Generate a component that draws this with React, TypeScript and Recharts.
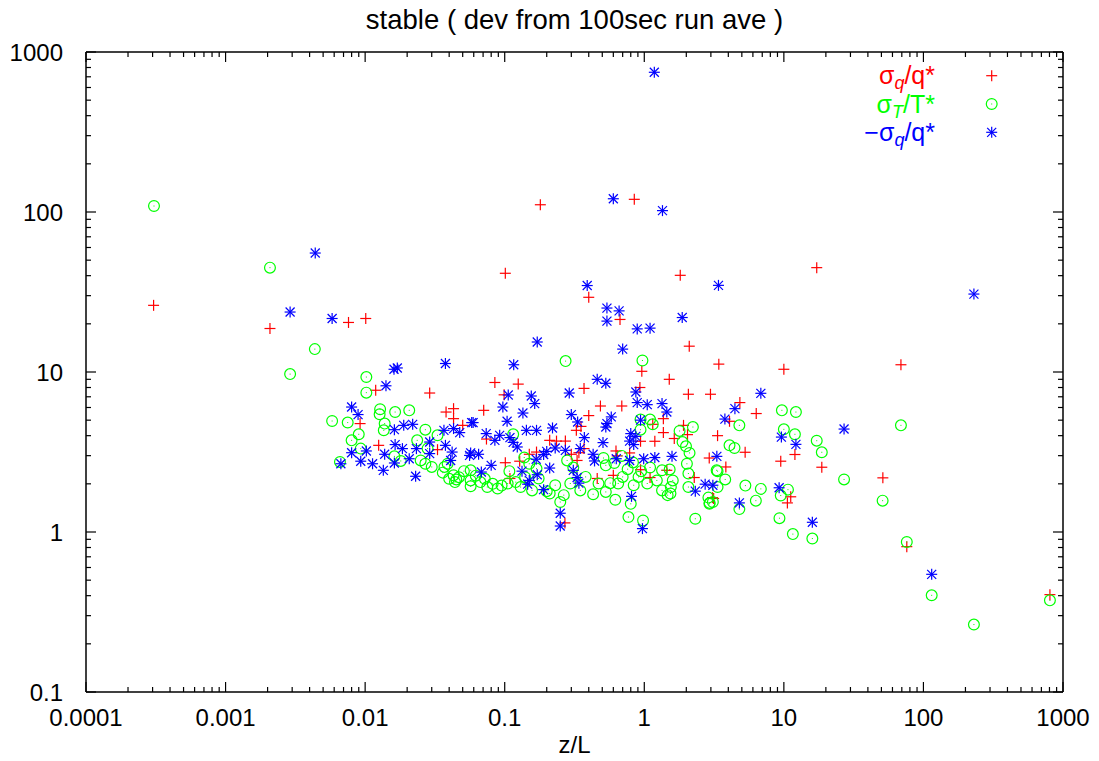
import React from "react";
import { ScatterChart, Scatter, XAxis, YAxis } from "recharts";

// sigma_q / q*  (red plus)
const sqX = [
  3.05e-4, 0.00208, 0.0076, 0.0101, 0.101, 0.18, 0.848, 1.81, 17.2, 0.4,
  0.67, 0.96, 2.1, 3.42, 10.0, 1.51, 0.37, 69, 51.2, 76,
  806, 2.98, 4.84, 6.34, 4.08, 3.35, 5.28, 2.92, 3.84, 9.5,
  12.0, 18.7, 11.2, 10.6, 3.08, 0.085, 0.125, 0.099, 0.0707, 0.4,
  0.485, 0.69, 0.93, 1.37, 2.07, 0.074, 0.21, 0.235, 0.272, 0.37,
  0.34, 0.326, 0.352, 0.627, 0.64, 0.785, 1.15, 0.94, 1.19, 1.37,
  1.64, 1.91, 2.04, 0.101, 0.128, 0.15, 0.169, 0.3, 0.33, 0.46,
  0.6, 0.94, 1.1, 1.45, 0.109, 2.28, 3.14, 0.27, 0.0119, 0.029,
  0.038, 0.043, 0.043, 0.05, 0.0092, 0.0125, 0.033,
];
const sqY = [
  26.1, 18.7, 20.4, 21.6, 41.4, 111, 120, 40.2, 44.9, 29.3,
  21.3, 10.1, 14.5, 11.2, 10.4, 9.0, 7.9, 11.1, 2.18, 0.81,
  0.406, 7.26, 6.44, 5.5, 4.92, 4.0, 3.15, 2.9, 2.55, 2.77,
  3.05, 2.54, 1.66, 1.52, 1.64, 8.6, 8.4, 7.2, 5.76, 5.34,
  6.13, 6.13, 8.0, 5.11, 7.26, 3.81, 3.74, 3.7, 3.7, 3.32,
  3.13, 4.32, 4.57, 3.21, 2.99, 3.12, 4.71, 3.69, 3.69, 4.18,
  3.84, 4.64, 4.06, 2.71, 2.77, 3.06, 3.16, 3.06, 2.8, 2.16,
  2.26, 2.45, 2.19, 2.43, 2.16, 2.19, 1.62, 1.14, 7.69, 7.39,
  5.62, 5.9, 5.11, 4.64, 4.76, 3.48, 3.27,
];

// sigma_T / T*  (green circle)
const stX = [
  3.07e-4, 0.00208, 0.00436, 0.0029, 0.0102, 0.0102, 0.0058, 0.0075, 0.0128, 0.0127,
  0.0164, 0.0207, 0.0138, 0.0136, 0.027, 0.009, 0.008, 0.0093, 0.0236, 0.028,
  0.039, 0.043, 0.051, 0.057, 0.057, 0.0066, 0.0162, 0.018, 0.027, 0.033,
  0.037, 0.045, 0.115, 0.94, 0.94, 1.1, 1.15, 1.79, 2.23, 1.88,
  1.99, 2.11, 3.3, 0.51, 0.53, 0.61, 0.69, 0.76, 0.83, 0.95,
  1.1, 1.34, 1.52, 1.6, 1.55, 1.54, 1.47, 2.07, 2.07, 2.88,
  2.93, 2.32, 0.98, 0.77, 0.62, 0.8, 0.25, 0.21, 0.057, 0.067,
  0.075, 0.089, 0.105, 0.108, 0.13, 0.157, 0.175, 0.2, 0.23, 0.265,
  0.28, 0.295, 0.348, 0.38, 0.43, 0.47, 0.53, 0.57, 0.65, 0.7,
  0.84, 0.91, 1.05, 1.23, 1.34, 2.02, 0.31, 0.15, 0.138, 0.169,
  0.273, 0.97, 4.8, 9.68, 12.2, 10.0, 12.0, 4.08, 4.43, 3.35,
  17.2, 18.7, 27, 69, 51, 3.8, 5.3, 6.84, 10.7, 9.5,
  3.35, 2.94, 3.1, 4.8, 6.3, 9.3, 11.6, 16, 76, 114.6,
  230, 806, 0.04, 0.044, 0.047, 0.036, 0.03, 0.025, 0.062, 0.072,
  0.082, 0.095, 0.12, 0.14,
];
const stY = [
  109, 44.9, 13.9, 9.7, 9.3, 7.43, 4.94, 4.83, 5.85, 5.44,
  5.62, 5.76, 4.76, 4.32, 4.36, 4.08, 3.74, 3.32, 3.74, 3.32,
  2.67, 2.26, 2.4, 2.1, 1.93, 2.74, 2.97, 2.78, 2.67, 4.02,
  2.55, 2.13, 4.08, 4.36, 5.04, 5.04, 4.71, 4.28, 4.53, 3.65,
  3.43, 3.12, 2.43, 2.9, 2.61, 2.7, 2.99, 2.47, 2.72, 2.4,
  2.53, 2.43, 2.46, 2.1, 1.91, 1.74, 1.7, 2.32, 1.91, 1.64,
  1.5, 1.21, 1.18, 1.24, 1.59, 1.5, 1.54, 1.74, 2.43, 2.05,
  1.91, 1.87, 2.01, 2.4, 1.91, 1.82, 2.16, 1.8, 1.96, 1.7,
  2.8, 2.01, 1.82, 2.21, 1.72, 2.01, 1.78, 2.02, 2.01, 2.21,
  1.96, 2.21, 2.01, 2.1, 1.82, 2.67, 2.53, 2.67, 2.92, 2.49,
  11.7, 11.8, 4.64, 5.76, 5.62, 4.38, 4.08, 3.48, 3.35, 2.4,
  3.72, 3.15, 2.13, 4.64, 1.57, 2.13, 1.95, 1.86, 1.84, 1.69,
  1.91, 1.52, 1.54, 1.39, 1.57, 1.22, 0.97, 0.91, 0.866, 0.402,
  0.264, 0.374, 2.15, 2.05, 2.2, 2.35, 2.55, 2.8, 2.25, 2.15,
  2.0, 1.95, 2.05, 2.2,
];

// -sigma_q / q*  (blue asterisk)
const nsqX = [
  0.0058, 0.0029, 0.00439, 1.18, 0.6, 1.35, 0.39, 0.54, 0.66, 0.54,
  0.89, 1.1, 1.87, 3.4, 0.7, 0.46, 0.53, 0.171, 0.0376, 0.116,
  0.017, 0.0161, 0.0141, 230, 114.6, 6.84, 4.46, 3.78, 9.6, 12.2,
  3.31, 27, 2.73, 3.1, 9.25, 4.8, 16, 0.106, 0.155, 0.164,
  0.097, 0.29, 0.135, 0.104, 0.3, 0.87, 0.89, 1.05, 1.34, 1.45,
  0.0594, 0.0737, 0.085, 0.092, 0.109, 0.115, 0.123, 0.143, 0.169, 0.22,
  0.23, 0.2, 0.19, 0.272, 0.348, 0.372, 0.333, 0.506, 0.54, 0.53,
  0.58, 0.8, 0.785, 0.84, 0.94, 0.87, 1.58, 2.32, 0.97, 0.81,
  0.25, 0.25, 0.146, 0.15, 0.171, 0.19, 0.31, 0.34, 0.33, 0.068,
  0.08, 0.065, 0.057, 0.133, 0.168, 0.21, 0.43, 0.44, 0.63, 0.785,
  0.99, 1.19, 0.008, 0.0089, 0.0162, 0.0189, 0.0219, 0.0367, 0.043, 0.0476,
  0.058, 0.0164, 0.0185, 0.029, 0.0376, 0.042, 0.041, 0.056, 0.0067, 0.008,
  0.0093, 0.0102, 0.0113, 0.0138, 0.0135, 0.0162, 0.0207, 0.023, 0.0233, 0.029,
];
const nsqY = [
  21.6, 23.7, 55.4, 747, 121, 102, 34.7, 25.1, 24.1, 20.8,
  18.6, 18.8, 21.9, 34.8, 13.9, 9.0, 8.5, 15.4, 11.3, 11.1,
  10.6, 10.4, 8.2, 30.7, 0.544, 7.36, 5.9, 5.08, 3.92, 3.53,
  2.97, 4.4, 1.99, 1.96, 1.89, 1.52, 1.15, 7.18, 7.08, 6.35,
  6.04, 7.39, 5.54, 4.92, 5.42, 7.5, 6.44, 6.25, 6.35, 5.62,
  4.83, 4.12, 3.74, 4.02, 3.89, 3.63, 3.4, 4.32, 4.32, 4.47,
  3.35, 3.19, 3.05, 3.24, 3.32, 3.89, 4.87, 3.62, 4.76, 4.53,
  5.24, 4.12, 3.7, 3.52, 5.0, 3.96, 2.97, 1.8, 1.05, 1.67,
  1.31, 1.09, 1.99, 2.1, 2.28, 1.84, 2.43, 2.02, 2.19, 2.37,
  2.61, 3.06, 3.12, 2.4, 2.85, 2.51, 3.06, 2.78, 2.87, 2.8,
  2.87, 2.92, 6.04, 5.42, 4.36, 4.64, 4.71, 4.32, 4.43, 4.18,
  4.83, 3.52, 3.32, 3.65, 3.48, 3.16, 2.8, 3.01, 2.67, 3.13,
  2.77, 3.21, 2.67, 3.06, 2.43, 2.7, 2.87, 2.23, 3.32, 3.09,
];

const xMajor = [0.0001, 0.001, 0.01, 0.1, 1, 10, 100, 1000];
const xMajorLabels = ["0.0001", "0.001", "0.01", "0.1", "1", "10", "100", "1000"];
const yMajor = [0.1, 1, 10, 100, 1000];
const yMajorLabels = ["0.1", "1", "10", "100", "1000"];

const FONT = "'Liberation Sans', Arial, Helvetica, sans-serif";
const RED = "#ff0000";
const GREEN = "#00ff00";
const BLUE = "#0000ff";

const toPoints = (xs: number[], ys: number[]) => xs.map((x, i) => ({ x, y: ys[i] }));

// majors plus the 2..9 minor ticks of every decade
const withMinors = (majors: number[]) => {
  const out: number[] = [];
  majors.forEach((m, i) => {
    out.push(m);
    if (i < majors.length - 1) for (let k = 2; k <= 9; k++) out.push(m * k);
  });
  return out;
};

const xTicks = withMinors(xMajor);
const yTicks = withMinors(yMajor);

const sqData = toPoints(sqX, sqY);
const stData = toPoints(stX, stY);
const nsqData = toPoints(nsqX, nsqY);

const MAJOR = 10;
const MINOR = 5;

const BottomTick = (props: any) => {
  const { x, y, payload } = props;
  const idx = xMajor.indexOf(payload.value);
  const len = idx >= 0 ? MAJOR : MINOR;
  return (
    <g>
      <line x1={x} y1={y} x2={x} y2={y - len} stroke="#000" strokeWidth={1.2} />
      {idx >= 0 && (
        <text x={x} y={y + 34} textAnchor="middle" fontSize={24} fontFamily={FONT} fill="#000">
          {xMajorLabels[idx]}
        </text>
      )}
    </g>
  );
};

const TopTick = (props: any) => {
  const { x, y, payload } = props;
  const len = xMajor.indexOf(payload.value) >= 0 ? MAJOR : MINOR;
  return <line x1={x} y1={y} x2={x} y2={y + len} stroke="#000" strokeWidth={1.2} />;
};

const LeftTick = (props: any) => {
  const { x, y, payload } = props;
  const idx = yMajor.indexOf(payload.value);
  const len = idx >= 0 ? MAJOR : MINOR;
  return (
    <g>
      <line x1={x} y1={y} x2={x + len} y2={y} stroke="#000" strokeWidth={1.2} />
      {idx >= 0 && (
        <text x={x - 23} y={y + 8.5} textAnchor="end" fontSize={24} fontFamily={FONT} fill="#000">
          {yMajorLabels[idx]}
        </text>
      )}
    </g>
  );
};

const RightTick = (props: any) => {
  const { x, y, payload } = props;
  const len = yMajor.indexOf(payload.value) >= 0 ? MAJOR : MINOR;
  return <line x1={x} y1={y} x2={x - len} y2={y} stroke="#000" strokeWidth={1.2} />;
};

// gnuplot-like point symbols
const Plus = ({ cx, cy, color = RED }: any) => (
  <g stroke={color} strokeWidth={1.2}>
    <line x1={cx - 5.5} y1={cy} x2={cx + 5.5} y2={cy} />
    <line x1={cx} y1={cy - 5.5} x2={cx} y2={cy + 5.5} />
  </g>
);

const Ring = ({ cx, cy, color = GREEN }: any) => (
  <g>
    <circle cx={cx} cy={cy} r={5.4} fill="none" stroke={color} strokeWidth={1.2} />
    <rect x={cx - 0.5} y={cy - 0.5} width={1} height={1} fill={color} />
  </g>
);

const Star = ({ cx, cy, color = BLUE }: any) => (
  <g stroke={color} strokeWidth={1.2}>
    <line x1={cx - 5.5} y1={cy} x2={cx + 5.5} y2={cy} />
    <line x1={cx} y1={cy - 5.5} x2={cx} y2={cy + 5.5} />
    <line x1={cx - 4.5} y1={cy - 4.5} x2={cx + 4.5} y2={cy + 4.5} />
    <line x1={cx - 4.5} y1={cy + 4.5} x2={cx + 4.5} y2={cy - 4.5} />
  </g>
);

const axisLine = { stroke: "#000", strokeWidth: 1.5 };

export default function App() {
  return (
    <div style={{ position: "absolute", left: 0, top: 0, width: 1099, height: 761, fontFamily: FONT }}>
      <ScatterChart width={1099} height={761} margin={{ top: 22, right: 0, bottom: 0, left: 0 }}>
        <XAxis
          xAxisId="b"
          dataKey="x"
          type="number"
          scale="log"
          domain={[0.0001, 1000]}
          ticks={xTicks}
          interval={0}
          tick={<BottomTick />}
          tickSize={0}
          tickMargin={0}
          tickLine={false}
          axisLine={axisLine}
          height={69}
          allowDataOverflow
        />
        <XAxis
          xAxisId="t"
          orientation="top"
          dataKey="x"
          type="number"
          scale="log"
          domain={[0.0001, 1000]}
          ticks={xTicks}
          interval={0}
          tick={<TopTick />}
          tickSize={0}
          tickMargin={0}
          tickLine={false}
          axisLine={axisLine}
          height={30}
          allowDataOverflow
        />
        <YAxis
          yAxisId="l"
          dataKey="y"
          type="number"
          scale="log"
          domain={[0.1, 1000]}
          ticks={yTicks}
          interval={0}
          tick={<LeftTick />}
          tickSize={0}
          tickMargin={0}
          tickLine={false}
          axisLine={axisLine}
          width={86}
          allowDataOverflow
        />
        <YAxis
          yAxisId="r"
          orientation="right"
          dataKey="y"
          type="number"
          scale="log"
          domain={[0.1, 1000]}
          ticks={yTicks}
          interval={0}
          tick={<RightTick />}
          tickSize={0}
          tickMargin={0}
          tickLine={false}
          axisLine={axisLine}
          width={36}
          allowDataOverflow
        />
        <Scatter name="sq" xAxisId="b" yAxisId="l" data={sqData} shape={<Plus />} isAnimationActive={false} />
        <Scatter name="st" xAxisId="b" yAxisId="l" data={stData} shape={<Ring />} isAnimationActive={false} />
        <Scatter name="nsq" xAxisId="b" yAxisId="l" data={nsqData} shape={<Star />} isAnimationActive={false} />

        <text x={574.5} y={29} textAnchor="middle" fontSize={27.5} fontFamily={FONT} fill="#000">
          stable ( dev from 100sec run ave )
        </text>
        <text x={574.5} y={753} textAnchor="middle" fontSize={24} fontFamily={FONT} fill="#000">
          z/L
        </text>

        <g fontFamily={FONT} fontSize={25}>
          <text x={935} y={84} textAnchor="end" fill={RED}>
            σ<tspan fontStyle="italic" fontSize={18} dy={5}>q</tspan>
            <tspan dy={-5}>/q*</tspan>
          </text>
          <Plus cx={991.7} cy={75.7} />
          <text x={935} y={112.5} textAnchor="end" fill={GREEN}>
            σ<tspan fontStyle="italic" fontSize={18} dy={5}>T</tspan>
            <tspan dy={-5}>/T*</tspan>
          </text>
          <Ring cx={991.7} cy={104} />
          <text x={935} y={141} textAnchor="end" fill={BLUE}>
            −σ<tspan fontStyle="italic" fontSize={18} dy={5}>q</tspan>
            <tspan dy={-5}>/q*</tspan>
          </text>
          <Star cx={991.7} cy={132.3} />
        </g>
      </ScatterChart>
    </div>
  );
}
